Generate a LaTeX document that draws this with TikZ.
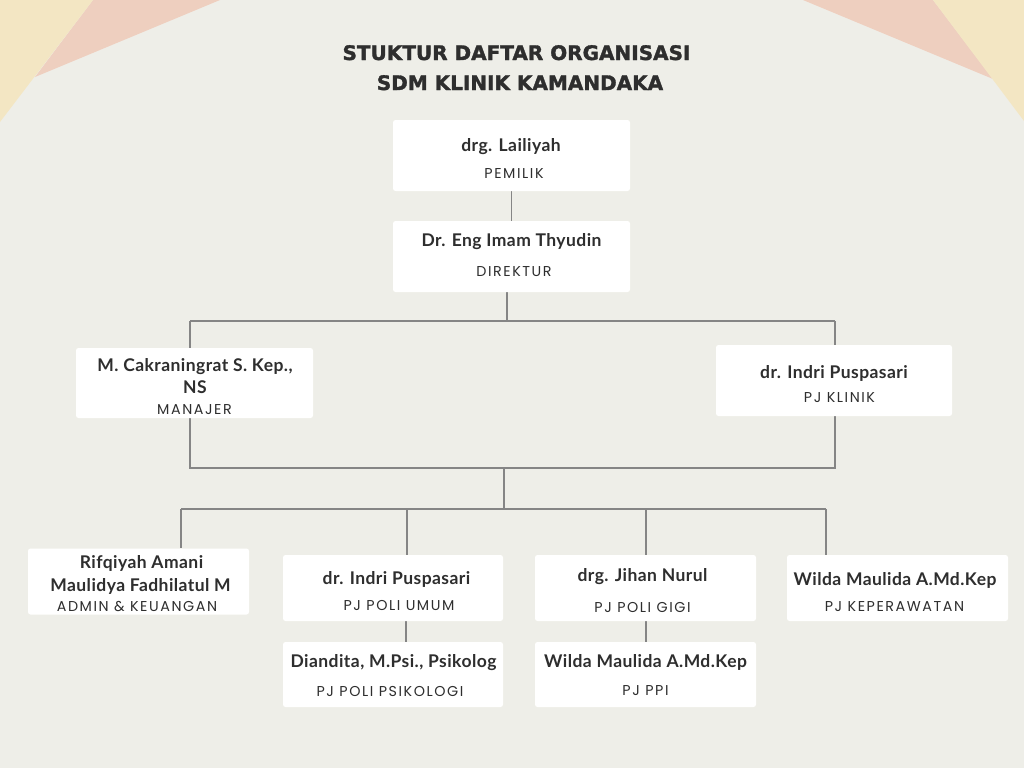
\documentclass[tikz,border=0pt]{standalone}
\usepackage{fontspec}
\newfontfamily\titlefont[BoldFeatures={FakeBold=1.6}]{DejaVu Sans}
\newfontfamily\namefontfam[LetterSpace=2.5]{Lato}
\newfontfamily\subfontfam[LetterSpace=11]{Poppins}
\pgfdeclarelayer{back}
\pgfdeclarelayer{bg}
\pgfsetlayers{back,bg,main}
\definecolor{bgc}{HTML}{EEEEE8}
\definecolor{ylw}{HTML}{F3E6C3}
\definecolor{pnk}{HTML}{EECFBF}
\definecolor{txt}{HTML}{2E2E2E}
\definecolor{ln}{HTML}{858585}
\tikzset{
  box/.style={fill=white, rounded corners=2.5pt, draw=none, inner sep=0pt, minimum width=#1},
  box/.default=237,
  nm/.style={font=\namefontfam\bfseries\fontsize{17.5}{19}\selectfont, text=txt, inner sep=0pt, anchor=base},
  sb/.style={font=\subfontfam\fontsize{14.3}{16}\selectfont, text=txt, inner sep=0pt, anchor=base},
  ttl/.style={font=\titlefont\bfseries\fontsize{20}{22}\selectfont, text=txt, inner sep=0pt, anchor=base},
  conn/.style={draw=ln, line width=1.4pt}
}
\begin{document}
\begin{tikzpicture}[x=1pt,y=-1pt]
\useasboundingbox (0,0) rectangle (1024,768);
\begin{pgfonlayer}{back}
\fill[bgc] (0,0) rectangle (1024,768);
% corner decorations
\fill[pnk] (93,0) -- (220,0) -- (35,77) -- cycle;
\fill[ylw] (0,0) -- (93,0) -- (0,122) -- cycle;
\fill[pnk] (803,0) -- (933,0) -- (993,79) -- cycle;
\fill[ylw] (933,0) -- (1024,0) -- (1024,121) -- cycle;
\end{pgfonlayer}
% title
\node[ttl] (t1) at (516.5,60) {STUKTUR DAFTAR ORGANISASI};
\node[ttl] (t2) at (520,90) {SDM KLINIK KAMANDAKA};
% boxes
\node[box=237, minimum height=71] (pemilik) at (511.5,155.5) {};
\node[box=237, minimum height=71] (direktur) at (511.5,256.5) {};
\node[box=237, minimum height=70] (manajer) at (194.5,383) {};
\node[box=236, minimum height=71] (klinik) at (834,380.5) {};
\node[box=221, minimum height=66] (admin) at (138.5,581.5) {};
\node[box=220, minimum height=66] (umum) at (393,588) {};
\node[box=220, minimum height=65] (psikologi) at (393,674.5) {};
\node[box=221, minimum height=66] (gigi) at (645.5,588) {};
\node[box=221, minimum height=65] (ppi) at (645.5,674.5) {};
\node[box=221, minimum height=66] (kep) at (897.5,588) {};
% junction coordinates
\coordinate (j1) at (507,321);
\coordinate (jl1) at (190,321);
\coordinate (jr1) at (835,321);
\coordinate (jl2) at (190,468);
\coordinate (jr2) at (835,468);
\coordinate (jm2) at (504,468);
\coordinate (j3) at (504,509);
\coordinate (ja) at (181,509);
\coordinate (ju) at (407,509);
\coordinate (jg) at (646,509);
\coordinate (jk) at (826,509);
\coordinate (ju2) at (406,509);
\begin{pgfonlayer}{bg}
\draw[conn] (pemilik.south) -- (direktur.north);
\draw[conn] (direktur.south -| j1) -- (j1);
\draw[conn] (jl1) -- (jr1);
\draw[conn] (jl1) -- (jl2) -- (jr2) -- (jr1);
\draw[conn] (jm2) -- (j3);
\draw[conn] (ja) -- (jk);
\draw[conn] (ja) -- (admin.north -| ja);
\draw[conn] (ju) -- (umum.north -| ju);
\draw[conn] (jg) -- (gigi.north -| jg);
\draw[conn] (jk) -- (kep.north -| jk);
\draw[conn] (umum.south -| ju2) -- (psikologi.north -| ju2);
\draw[conn] (gigi.south -| jg) -- (ppi.north -| jg);
\end{pgfonlayer}
% texts
\node[nm] (n1) at (511,151) {drg. Lailiyah};
\node[sb] (s1) at (514,178) {PEMILIK};
\node[nm] (n2) at (511.5,246) {Dr. Eng Imam Thyudin};
\node[sb] (s2) at (514,276) {DIREKTUR};
\node[nm] (n3a) at (195,371) {M. Cakraningrat S. Kep.,};
\node[nm] (n3b) at (195,393) {NS};
\node[sb] (s3) at (194.5,414) {MANAJER};
\node[nm] (n4) at (834,378) {dr. Indri Puspasari};
\node[sb] (s4) at (839.5,402) {PJ KLINIK};
\node[nm] (n5a) at (141.5,568) {Rifqiyah Amani};
\node[nm] (n5b) at (140.5,591) {Maulidya Fadhilatul M};
\node[sb] (s5) at (137,611) {ADMIN \& KEUANGAN};
\node[nm] (n6) at (396.5,584) {dr. Indri Puspasari};
\node[sb] (s6) at (399,610) {PJ POLI UMUM};
\node[nm] (n7) at (393.5,667) {Diandita, M.Psi., Psikolog};
\node[sb] (s7) at (390,696) {PJ POLI PSIKOLOGI};
\node[nm] (n8) at (642.5,581) {drg. Jihan Nurul};
\node[sb] (s8) at (642.5,612) {PJ POLI GIGI};
\node[nm] (n9) at (645.5,667) {Wilda Maulida A.Md.Kep};
\node[sb] (s9) at (645.5,695) {PJ PPI};
\node[nm] (n10) at (895,585) {Wilda Maulida A.Md.Kep};
\node[sb] (s10) at (894.5,611) {PJ KEPERAWATAN};
\end{tikzpicture}
\end{document}
